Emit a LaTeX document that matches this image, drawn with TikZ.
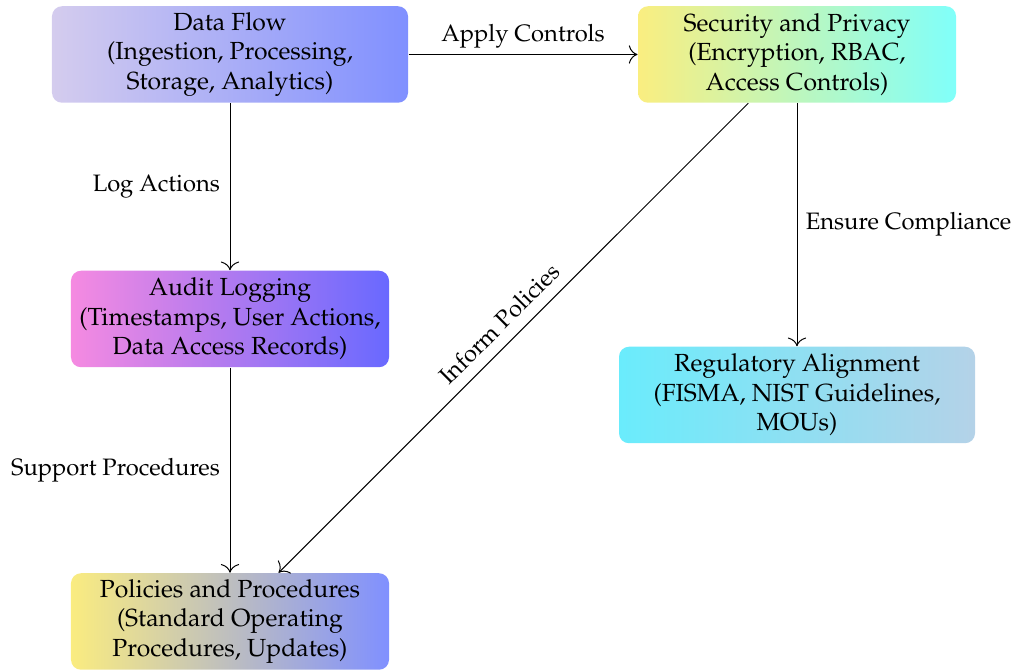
\documentclass[tikz,border=0pt]{standalone}
\usepackage[T1]{fontenc}
\usepackage{mathpazo}
\usetikzlibrary{arrows.meta}
\definecolor{dfL}{RGB}{212,204,238}
\definecolor{dfR}{RGB}{128,144,255}
\definecolor{spL}{RGB}{250,238,128}
\definecolor{spR}{RGB}{128,255,250}
\definecolor{alL}{RGB}{245,138,225}
\definecolor{alR}{RGB}{105,105,255}
\definecolor{raL}{RGB}{106,236,252}
\definecolor{raR}{RGB}{180,210,232}
\definecolor{ppL}{RGB}{250,236,128}
\definecolor{ppR}{RGB}{128,144,255}
\tikzset{
  box/.style={rounded corners=4pt, align=center, inner sep=0pt,
    minimum height=38.6pt, font=\fontsize{9.9}{11.8}\selectfont},
  wide/.style={box, minimum width=142.4pt},
  narrow/.style={box, minimum width=127.2pt},
  link/.style={-{To[scale=1.4]}, line width=0.4pt},
  lbl/.style={font=\fontsize{9.5}{11.4}\selectfont}
}
\begin{document}
\begin{tikzpicture}[x=0.4pt, y=-0.4pt]
\useasboundingbox (0,0) rectangle (1015,671);

\node[wide, left color=dfL, right color=dfR] (df) at (230,54.5)
  {Data Flow\\(Ingestion, Processing,\\Storage, Analytics)};
\node[narrow, left color=spL, right color=spR] (sp) at (797,54.5)
  {Security and Privacy\\(Encryption, RBAC,\\Access Controls)};
\node[narrow, left color=alL, right color=alR] (al) at (230,319)
  {Audit Logging\\(Timestamps, User Actions,\\Data Access Records)};
\node[wide, left color=raL, right color=raR] (ra) at (797,395)
  {Regulatory Alignment\\(FISMA, NIST Guidelines,\\MOUs)};
\node[narrow, left color=ppL, right color=ppR] (pp) at (230,621.5)
  {Policies and Procedures\\(Standard Operating\\Procedures, Updates)};

\draw[link] (df) -- node[lbl, above=-1pt] {Apply Controls} (sp);
\draw[link] (df) -- node[lbl, left=0.5pt] {Log Actions} (al);
\draw[link] (sp) -- node[lbl, right=0pt] {Ensure Compliance} (ra);
\draw[link] (al) -- node[lbl, left=0.5pt] {Support Procedures} (pp);
\draw[link] (sp) -- node[lbl, sloped, above=1pt] {Inform Policies} (pp);
\end{tikzpicture}
\end{document}
